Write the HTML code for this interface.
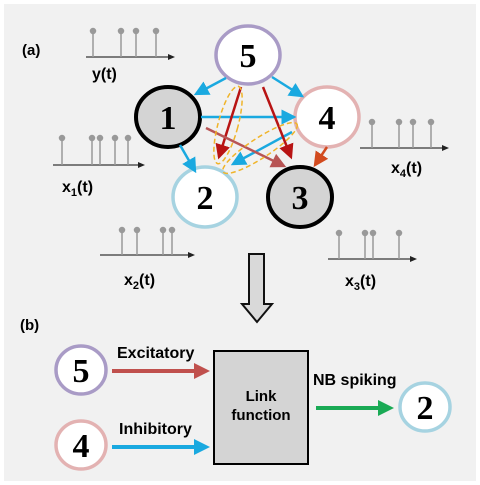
<!DOCTYPE html>
<html><head><style>
html,body{margin:0;padding:0;background:#fff;}
svg{display:block;}
text{font-family:"Liberation Sans",Arial,sans-serif;font-weight:bold;}
.n{font-family:"Liberation Serif",serif;font-weight:bold;font-size:34px;}
</style></head><body>
<svg width="480" height="485" viewBox="0 0 480 485" xmlns="http://www.w3.org/2000/svg">
<defs>
<marker id="ab" markerWidth="6" markerHeight="6" refX="5" refY="3" orient="auto" markerUnits="strokeWidth"><path d="M0,0 L6,3 L0,6 z" fill="#1aa9e0"/></marker>
<marker id="ar" markerWidth="6" markerHeight="6" refX="5" refY="3" orient="auto" markerUnits="strokeWidth"><path d="M0,0 L6,3 L0,6 z" fill="#b81414"/></marker>
<marker id="abr" markerWidth="6" markerHeight="6" refX="5" refY="3" orient="auto" markerUnits="strokeWidth"><path d="M0,0 L6,3 L0,6 z" fill="#b85555"/></marker>
<marker id="ao" markerWidth="6" markerHeight="6" refX="5" refY="3" orient="auto" markerUnits="strokeWidth"><path d="M0,0 L6,3 L0,6 z" fill="#d24a1e"/></marker>
<marker id="B5" markerWidth="4" markerHeight="4" refX="2" refY="2" orient="auto" markerUnits="strokeWidth"><path d="M0,0 L4,2 L0,4 z" fill="#c0504d"/></marker>
<marker id="B4" markerWidth="4" markerHeight="4" refX="2" refY="2" orient="auto" markerUnits="strokeWidth"><path d="M0,0 L4,2 L0,4 z" fill="#1aa9e0"/></marker>
<marker id="BG" markerWidth="4" markerHeight="4" refX="2" refY="2" orient="auto" markerUnits="strokeWidth"><path d="M0,0 L4,2 L0,4 z" fill="#1aaa55"/></marker>
</defs>
<rect x="4" y="4" width="472" height="477" fill="#f1f1f1"/>

<text x="22" y="55" font-size="15">(a)</text>
<text x="20" y="330" font-size="15">(b)</text>

<g stroke="#999" stroke-width="1.5" fill="#999">
<line x1="86" y1="57" x2="170" y2="57" stroke="#555"/>
<line x1="93" y1="57" x2="93" y2="32"/><circle cx="93" cy="31" r="2.5"/>
<line x1="121" y1="57" x2="121" y2="32"/><circle cx="121" cy="31" r="2.5"/>
<line x1="136" y1="57" x2="136" y2="32"/><circle cx="136" cy="31" r="2.5"/>
<line x1="156" y1="57" x2="156" y2="32"/><circle cx="156" cy="31" r="2.5"/>

<line x1="53" y1="165" x2="140" y2="165" stroke="#555"/>
<line x1="62" y1="165" x2="62" y2="139"/><circle cx="62" cy="138" r="2.5"/>
<line x1="92" y1="165" x2="92" y2="139"/><circle cx="92" cy="138" r="2.5"/>
<line x1="100" y1="165" x2="100" y2="139"/><circle cx="100" cy="138" r="2.5"/>
<line x1="115" y1="165" x2="115" y2="139"/><circle cx="115" cy="138" r="2.5"/>
<line x1="128" y1="165" x2="128" y2="139"/><circle cx="128" cy="138" r="2.5"/>

<line x1="100" y1="255" x2="190" y2="255" stroke="#555"/>
<line x1="122" y1="255" x2="122" y2="231"/><circle cx="122" cy="230" r="2.5"/>
<line x1="137" y1="255" x2="137" y2="231"/><circle cx="137" cy="230" r="2.5"/>
<line x1="163" y1="255" x2="163" y2="231"/><circle cx="163" cy="230" r="2.5"/>
<line x1="172" y1="255" x2="172" y2="231"/><circle cx="172" cy="230" r="2.5"/>

<line x1="360" y1="148" x2="444" y2="148" stroke="#555"/>
<line x1="372" y1="148" x2="372" y2="123"/><circle cx="372" cy="122" r="2.5"/>
<line x1="399" y1="148" x2="399" y2="123"/><circle cx="399" cy="122" r="2.5"/>
<line x1="413" y1="148" x2="413" y2="123"/><circle cx="413" cy="122" r="2.5"/>
<line x1="431" y1="148" x2="431" y2="123"/><circle cx="431" cy="122" r="2.5"/>

<line x1="328" y1="259" x2="412" y2="259" stroke="#555"/>
<line x1="339" y1="259" x2="339" y2="234"/><circle cx="339" cy="233" r="2.5"/>
<line x1="365" y1="259" x2="365" y2="234"/><circle cx="365" cy="233" r="2.5"/>
<line x1="373" y1="259" x2="373" y2="234"/><circle cx="373" cy="233" r="2.5"/>
<line x1="399" y1="259" x2="399" y2="234"/><circle cx="399" cy="233" r="2.5"/>
</g>
<g fill="#222">
<path d="M168,54 L175,57 L168,60z"/><path d="M138,162 L145,165 L138,168z"/>
<path d="M188,252 L195,255 L188,258z"/><path d="M442,145 L449,148 L442,151z"/>
<path d="M410,256 L417,259 L410,262z"/>
</g>
<text x="92" y="79" font-size="16">y(t)</text>
<text x="62" y="192" font-size="16">x<tspan font-size="11" dy="4">1</tspan><tspan dy="-4">(t)</tspan></text>
<text x="124" y="285" font-size="16">x<tspan font-size="11" dy="4">2</tspan><tspan dy="-4">(t)</tspan></text>
<text x="391" y="173" font-size="16">x<tspan font-size="11" dy="4">4</tspan><tspan dy="-4">(t)</tspan></text>
<text x="345" y="286" font-size="16">x<tspan font-size="11" dy="4">3</tspan><tspan dy="-4">(t)</tspan></text>

<ellipse cx="248" cy="55" rx="32" ry="29" fill="#fff" stroke="#a99bc6" stroke-width="3.5"/>
<ellipse cx="168" cy="117" rx="32" ry="30" fill="#d4d4d4" stroke="#000" stroke-width="4"/>
<ellipse cx="327" cy="117" rx="32" ry="30" fill="#fff" stroke="#e3b2b2" stroke-width="3.5"/>
<ellipse cx="205" cy="197" rx="32" ry="30" fill="#fff" stroke="#a6d3e1" stroke-width="3.5"/>
<ellipse cx="300" cy="197" rx="32" ry="30" fill="#d4d4d4" stroke="#000" stroke-width="4"/>
<text class="n" x="248" y="67" text-anchor="middle">5</text>
<text class="n" x="168" y="129" text-anchor="middle">1</text>
<text class="n" x="327" y="129" text-anchor="middle">4</text>
<text class="n" x="205" y="209" text-anchor="middle">2</text>
<text class="n" x="300" y="209" text-anchor="middle">3</text>

<g stroke-width="2.5" fill="none">
<line x1="226" y1="78" x2="196" y2="94" stroke="#1aa9e0" marker-end="url(#ab)"/>
<line x1="272" y1="77" x2="302" y2="96" stroke="#1aa9e0" marker-end="url(#ab)"/>
<line x1="201" y1="117" x2="294" y2="117" stroke="#1aa9e0" marker-end="url(#ab)"/>
<line x1="180" y1="145" x2="195" y2="171" stroke="#1aa9e0" marker-end="url(#ab)"/>
<line x1="292" y1="132" x2="233" y2="164" stroke="#1aa9e0" marker-end="url(#ab)"/>
<line x1="241" y1="87" x2="219" y2="157" stroke="#b81414" marker-end="url(#ar)"/>
<line x1="263" y1="87" x2="291" y2="157" stroke="#b81414" marker-end="url(#ar)"/>
<line x1="206" y1="128" x2="284" y2="166" stroke="#b85555" marker-end="url(#abr)"/>
<line x1="327" y1="147" x2="315" y2="165" stroke="#d24a1e" marker-end="url(#ao)"/>
<ellipse cx="228" cy="125" rx="10" ry="40" transform="rotate(15 228 125)" stroke="#f0b429" stroke-width="1.5" stroke-dasharray="5,3"/>
<ellipse cx="260" cy="148" rx="44" ry="10" transform="rotate(-33 260 148)" stroke="#f0b429" stroke-width="1.5" stroke-dasharray="5,3"/>
</g>

<path d="M249,254 L264,254 L264,304 L272,304 L257,322 L242,304 L249,304 Z" fill="#d9d9d9" stroke="#111" stroke-width="2"/>

<ellipse cx="81" cy="370" rx="25" ry="24" fill="#fff" stroke="#a99bc6" stroke-width="3.5"/>
<ellipse cx="81" cy="445" rx="25" ry="24" fill="#fff" stroke="#e3b2b2" stroke-width="3.5"/>
<ellipse cx="425" cy="407" rx="25" ry="24" fill="#fff" stroke="#a6d3e1" stroke-width="3.5"/>
<text class="n" x="81" y="382" text-anchor="middle">5</text>
<text class="n" x="81" y="457" text-anchor="middle">4</text>
<text class="n" x="425" y="419" text-anchor="middle">2</text>
<rect x="214" y="351" width="94" height="113" fill="#d4d4d4" stroke="#000" stroke-width="2"/>
<text x="261" y="401" font-size="15" text-anchor="middle">Link</text>
<text x="261" y="420" font-size="15" text-anchor="middle">function</text>
<g stroke-width="4" fill="none">
<line x1="112" y1="371" x2="202" y2="371" stroke="#c0504d" marker-end="url(#B5)"/>
<line x1="112" y1="447" x2="202" y2="447" stroke="#1aa9e0" marker-end="url(#B4)"/>
<line x1="316" y1="408" x2="386" y2="408" stroke="#1aaa55" marker-end="url(#BG)"/>
</g>
<text x="117" y="358" font-size="16">Excitatory</text>
<text x="119" y="434" font-size="16">Inhibitory</text>
<text x="313" y="385" font-size="16">NB spiking</text>
</svg>
</body></html>
